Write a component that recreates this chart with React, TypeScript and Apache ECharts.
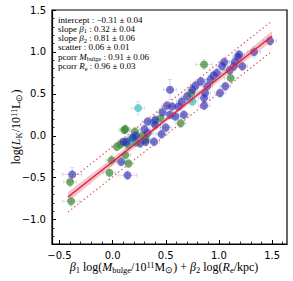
import React, { useEffect, useRef } from "react";
import * as echarts from "echarts";

// [x, y, xerr, yerr]
const bluePoints: number[][] = [
  [-0.38, -0.46, 0.09, 0.08], [0.08, -0.31, 0.05, 0.05], [0.14, -0.47, 0.09, 0.05],
  [0.13, -0.07, 0.05, 0.05], [0.10, -0.07, 0.05, 0.04], [0.26, -0.09, 0.05, 0.05],
  [0.31, -0.07, 0.05, 0.05], [0.33, 0.03, 0.05, 0.05], [0.39, -0.07, 0.05, 0.05],
  [0.33, 0.17, 0.05, 0.05], [0.40, 0.13, 0.05, 0.05], [0.40, 0.19, 0.05, 0.05],
  [0.50, 0.10, 0.05, 0.05], [0.46, 0.02, 0.05, 0.05], [0.51, 0.36, 0.05, 0.05],
  [0.56, 0.35, 0.05, 0.05], [0.54, 0.55, 0.06, 0.12], [0.54, 0.25, 0.05, 0.05],
  [0.59, 0.23, 0.05, 0.05], [0.62, 0.35, 0.05, 0.05], [0.65, 0.41, 0.05, 0.05],
  [0.67, 0.25, 0.05, 0.05], [0.70, 0.47, 0.05, 0.05], [0.75, 0.55, 0.05, 0.05],
  [0.78, 0.60, 0.05, 0.05], [0.83, 0.65, 0.05, 0.05], [0.86, 0.45, 0.05, 0.05],
  [0.86, 0.36, 0.05, 0.05], [0.87, 0.51, 0.05, 0.05], [0.89, 0.59, 0.05, 0.05],
  [0.92, 0.67, 0.05, 0.05], [0.95, 0.72, 0.05, 0.05], [0.98, 0.75, 0.05, 0.05],
  [1.01, 0.51, 0.05, 0.05], [1.03, 0.83, 0.05, 0.05], [1.06, 0.59, 0.05, 0.05],
  [1.10, 0.78, 0.05, 0.05], [1.14, 0.83, 0.05, 0.05], [1.15, 0.88, 0.05, 0.05],
  [1.18, 0.94, 0.05, 0.06], [1.19, 0.97, 0.05, 0.05], [1.22, 0.83, 0.05, 0.05],
  [1.05, 0.88, 0.05, 0.05], [1.33, 1.00, 0.06, 0.06], [1.48, 1.13, 0.06, 0.05],
  [0.22, 0.00, 0.05, 0.05], [0.30, 0.08, 0.05, 0.05], [0.47, 0.28, 0.05, 0.05],
  [0.19, -0.02, 0.05, 0.05],
];
const greenPoints: number[][] = [
  [-0.40, -0.55, 0.06, 0.06], [-0.39, -0.78, 0.08, 0.06], [-0.01, -0.29, 0.05, 0.06],
  [-0.03, -0.44, 0.06, 0.08], [0.15, -0.33, 0.05, 0.05], [0.12, -0.23, 0.05, 0.08],
  [0.075, -0.10, 0.05, 0.06], [0.11, 0.07, 0.05, 0.05], [0.12, 0.08, 0.05, 0.05],
  [0.21, 0.05, 0.05, 0.05], [0.14, -0.10, 0.05, 0.05], [0.31, -0.04, 0.05, 0.05],
  [0.45, 0.21, 0.05, 0.12], [0.64, 0.15, 0.05, 0.05], [0.74, 0.51, 0.06, 0.07],
  [0.86, 0.85, 0.08, 0.06], [1.11, 0.69, 0.06, 0.06], [0.22, -0.08, 0.05, 0.05],
  [0.28, 0.00, 0.05, 0.05], [0.04, -0.13, 0.05, 0.05],
];
const cyanPoints: number[][] = [
  [0.24, 0.33, 0.06, 0.08], [0.17, -0.05, 0.05, 0.05], [0.16, -0.08, 0.05, 0.05],
  [0.39, 0.16, 0.05, 0.05], [0.75, 0.41, 0.05, 0.05], [0.20, -0.02, 0.05, 0.05],
];

const fitIntercept = -0.31;
const fitSlope = 1.0;
const fitRange = [-0.42, 1.5];
const scatterWidth = 0.18;
const bandX = [-0.42, 0.55, 1.5];
const bandHalf = [0.06, 0.025, 0.06];

const xMajor = [-0.5, 0, 0.5, 1.0, 1.5];
const xMinor = [-0.5, -0.4, -0.3, -0.2, -0.1, 0, 0.1, 0.2, 0.3, 0.4, 0.5, 0.6, 0.7, 0.8, 0.9, 1.0, 1.1, 1.2, 1.3, 1.4, 1.5, 1.6];
const yMajor = [-1.0, -0.5, 0, 0.5, 1.0, 1.5];
const yMinor = [-1.2, -1.1, -1.0, -0.9, -0.8, -0.7, -0.6, -0.5, -0.4, -0.3, -0.2, -0.1, 0, 0.1, 0.2, 0.3, 0.4, 0.5, 0.6, 0.7, 0.8, 0.9, 1.0, 1.1, 1.2, 1.3, 1.4, 1.5];

const statLines = [
  "intercept : −0.31 ± 0.04",
  "slope {i|β}{s|1} : 0.32 ± 0.04",
  "slope {i|β}{s|2} : 0.81 ± 0.06",
  "scatter : 0.06 ± 0.01",
  "pcorr {i|M}{s|bulge} : 0.91 ± 0.06",
  "pcorr {i|R}{s|e} : 0.96 ± 0.03",
];

const fmt = (v: number) => {
  const s = Math.abs(v) < 1e-9 ? "0.0" : v.toFixed(1);
  return s.replace("-", "−");
};

export default function App() {
  const ref = useRef<HTMLDivElement>(null);
  useEffect(() => {
    if (!ref.current) return;
    const chart = echarts.init(ref.current, null, { renderer: "svg" });
    const line = (x: number) => fitIntercept + fitSlope * x;

    const errSeries = (pts: number[][], color: string) => ({
      type: "custom",
      z: 1,
      data: pts,
      renderItem: (params: any, api: any) => {
        const x = api.value(0), y = api.value(1), xe = api.value(2), ye = api.value(3);
        const pL = api.coord([x - xe, y]);
        const pR = api.coord([x + xe, y]);
        const pT = api.coord([x, y + ye]);
        const pB = api.coord([x, y - ye]);
        const st = { stroke: color, lineWidth: 0.8 };
        const c = 2;
        return {
          type: "group",
          children: [
            { type: "line", shape: { x1: pL[0], y1: pL[1], x2: pR[0], y2: pR[1] }, style: st },
            { type: "line", shape: { x1: pT[0], y1: pT[1], x2: pB[0], y2: pB[1] }, style: st },
            { type: "line", shape: { x1: pL[0], y1: pL[1] - c, x2: pL[0], y2: pL[1] + c }, style: st },
            { type: "line", shape: { x1: pR[0], y1: pR[1] - c, x2: pR[0], y2: pR[1] + c }, style: st },
            { type: "line", shape: { x1: pT[0] - c, y1: pT[1], x2: pT[0] + c, y2: pT[1] }, style: st },
            { type: "line", shape: { x1: pB[0] - c, y1: pB[1], x2: pB[0] + c, y2: pB[1] }, style: st },
          ],
        };
      },
    });

    const scat = (pts: number[][], color: string) => ({
      type: "scatter",
      z: 2,
      symbolSize: 8,
      data: pts.map((p) => [p[0], p[1]]),
      itemStyle: { color, opacity: 1 },
    });

    const bandSeries = {
      type: "custom",
      z: 3,
      data: [[0]],
      renderItem: (params: any, api: any) => {
        const top = bandX.map((x, i) => api.coord([x, line(x) + bandHalf[i]]));
        const bot = bandX.map((x, i) => api.coord([x, line(x) - bandHalf[i]])).reverse();
        return {
          type: "polygon",
          shape: { points: top.concat(bot) },
          style: { fill: "rgba(220,90,100,0.35)" },
        };
      },
    };

    const textStyleRich = {
      i: { fontFamily: "Liberation Serif", fontStyle: "italic", fontSize: 9, color: "#000" },
      s: { fontFamily: "Liberation Serif", fontSize: 6.5, color: "#000", padding: [4, 0, 0, 0] },
    };

    chart.setOption({
      animation: false,
      grid: { left: 52, top: 10, right: 6, bottom: 37, show: true, borderColor: "#000", borderWidth: 1.2, backgroundColor: "transparent" },
      xAxis: [
        {
          type: "value", min: -0.57, max: 1.64,
          axisLine: { show: true, onZero: false, lineStyle: { color: "#000", width: 1.2 } },
          axisTick: { show: true, inside: true, length: 4, customValues: xMajor, lineStyle: { color: "#000", width: 1 } },
          axisLabel: { customValues: xMajor, formatter: (v: number) => fmt(v), fontFamily: "DejaVu Sans", fontSize: 10, color: "#000", margin: 6 },
          splitLine: { show: false },
        },
        {
          type: "value", min: -0.57, max: 1.64, position: "bottom",
          axisLine: { show: false, onZero: false },
          axisTick: { show: true, inside: true, length: 2.5, customValues: xMinor, lineStyle: { color: "#000", width: 0.8 } },
          axisLabel: { show: false },
          splitLine: { show: false },
        },
      ],
      yAxis: [
        {
          type: "value", min: -1.29, max: 1.5,
          axisLine: { show: true, onZero: false, lineStyle: { color: "#000", width: 1.2 } },
          axisTick: { show: true, inside: true, length: 4, customValues: yMajor, lineStyle: { color: "#000", width: 1 } },
          axisLabel: { customValues: yMajor, formatter: (v: number) => fmt(v), fontFamily: "DejaVu Sans", fontSize: 10, color: "#000", margin: 6 },
          splitLine: { show: false },
        },
        {
          type: "value", min: -1.29, max: 1.5, position: "left",
          axisLine: { show: false, onZero: false },
          axisTick: { show: true, inside: true, length: 2.5, customValues: yMinor, lineStyle: { color: "#000", width: 0.8 } },
          axisLabel: { show: false },
          splitLine: { show: false },
        },
      ],
      series: [
        errSeries(bluePoints, "rgba(110,110,210,0.35)"),
        errSeries(greenPoints, "rgba(100,170,100,0.35)"),
        errSeries(cyanPoints, "rgba(80,190,190,0.35)"),
        scat(greenPoints, "rgba(55,135,55,0.7)"),
        scat(cyanPoints, "rgba(60,190,190,0.7)"),
        scat(bluePoints, "rgba(45,45,175,0.65)"),
        bandSeries,
        {
          type: "line", z: 4, symbol: "none",
          data: fitRange.map((x) => [x, line(x) + scatterWidth]),
          lineStyle: { color: "#e05a6a", width: 1.2, type: [1.5, 2.5] },
        },
        {
          type: "line", z: 4, symbol: "none",
          data: fitRange.map((x) => [x, line(x) - scatterWidth]),
          lineStyle: { color: "#e05a6a", width: 1.2, type: [1.5, 2.5] },
        },
        {
          type: "line", z: 5, symbol: "none",
          data: fitRange.map((x) => [x, line(x)]),
          lineStyle: { color: "#dc1c3c", width: 1.4 },
        },
      ],
      graphic: [
        ...statLines.map((t, i) => ({
          type: "text",
          left: 58,
          top: 15 + i * 9.3,
          z: 10,
          style: { text: t, fontFamily: "Liberation Serif", fontSize: 9, fill: "#000", rich: textStyleRich },
        })),
        {
          type: "text",
          x: 164, y: 267,
          z: 10,
          style: {
            text: "{i|β}{s|1} log({i|M}{s|bulge}/10{p|11}M{s|⊙}) + {i|β}{s|2} log({i|R}{s|e}/kpc)",
            fontFamily: "Liberation Serif", fontSize: 12, fill: "#000", align: "center", verticalAlign: "middle",
            rich: {
              i: { fontFamily: "Liberation Serif", fontStyle: "italic", fontSize: 12, color: "#000" },
              s: { fontFamily: "Liberation Serif", fontSize: 8.5, color: "#000", padding: [5, 0, 0, 0] },
              p: { fontFamily: "Liberation Serif", fontSize: 8.5, color: "#000", padding: [0, 0, 5, 0] },
            },
          },
        },
        {
          type: "text",
          x: 16, y: 127, rotation: Math.PI / 2,
          z: 10,
          style: {
            text: "log({i|L}{s|K}/10{p|11}L{s|⊙})",
            fontFamily: "Liberation Serif", fontSize: 12, fill: "#000", align: "center", verticalAlign: "middle",
            rich: {
              i: { fontFamily: "Liberation Serif", fontStyle: "italic", fontSize: 12, color: "#000" },
              s: { fontFamily: "Liberation Serif", fontSize: 8.5, color: "#000", padding: [5, 0, 0, 0] },
              p: { fontFamily: "Liberation Serif", fontSize: 8.5, color: "#000", padding: [0, 0, 5, 0] },
            },
          },
        },
      ],
    });
    return () => chart.dispose();
  }, []);
  return <div ref={ref} style={{ position: "absolute", left: 0, top: 0, width: 293, height: 281 }} />;
}
